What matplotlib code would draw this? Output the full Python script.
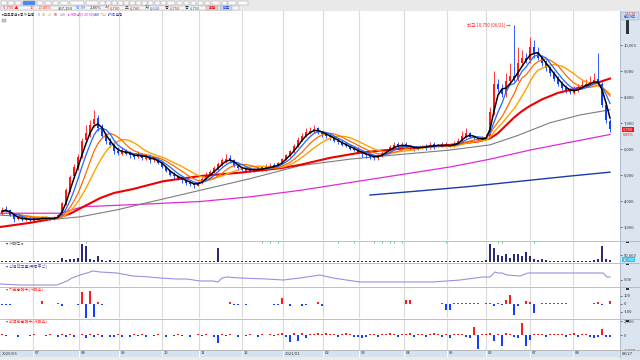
import numpy as np
import pandas as pd
import matplotlib
matplotlib.use('Agg')
import matplotlib.pyplot as plt
from matplotlib.patches import Rectangle
from matplotlib.lines import Line2D

plt.rcParams['font.family'] = ['Noto Sans CJK KR', 'DejaVu Sans']

# ---------------- data (1 bar ~ 2 trading days) ----------------
close = [3600,3650,3450,3300,3350,3280,3300,3250,3320,3300,
         3350,3320,3300,3340,3450,3900,4400,4900,5300,5700,
         6300,6600,6900,7150,6800,6500,6300,6150,5900,5850,
         5950,5800,5750,5700,5800,5650,5700,5550,5600,5450,
         5300,5150,5000,4950,4850,4800,4700,4650,4600,4700,
         4850,5000,5100,5250,5400,5550,5600,5550,5350,5250,
         5200,5250,5150,5200,5250,5200,5300,5350,5300,5450,
         5600,5750,5900,6100,6350,6500,6650,6700,6750,6650,
         6550,6500,6450,6300,6250,6150,6100,6000,5950,5850,
         5800,5750,5700,5650,5750,5850,5950,6050,6150,6100,
         6150,6100,6050,6000,6050,6100,6050,6150,6100,6150,
         6100,6150,6100,6200,6300,6500,6600,6450,6400,6350,
         6400,6450,7400,8500,8300,8100,8600,8800,8700,9300,
         9500,9400,9900,9700,9500,9300,9100,8900,8700,8500,
         8350,8250,8200,8250,8350,8450,8500,8550,8650,8500,
         7700,7100,6750]
opens = [3500,3700,3650,3450,3280,3380,3260,3320,3240,3330,
         3290,3360,3330,3280,3330,3450,3900,4400,4950,5250,
         5700,6350,6550,6950,7200,6850,6550,6250,6150,5900,
         5800,5950,5850,5720,5680,5800,5620,5720,5550,5620,
         5450,5300,5150,5000,4950,4850,4800,4700,4650,4580,
         4700,4850,5000,5100,5250,5400,5500,5650,5550,5350,
         5250,5150,5250,5150,5200,5280,5200,5300,5380,5300,
         5450,5600,5750,5900,6100,6350,6500,6650,6700,6780,
         6650,6550,6500,6450,6300,6250,6150,6100,6000,5950,
         5850,5800,5750,5700,5650,5750,5850,5950,6050,6180,
         6080,6180,6100,6050,5980,6050,6120,6030,6180,6080,
         6170,6080,6160,6100,6200,6300,6450,6600,6450,6400,
         6350,6400,6450,7400,8500,8300,8100,8600,8800,8700,
         9300,9500,9400,9900,9700,9500,9300,9100,8900,8700,
         8500,8350,8250,8150,8250,8350,8450,8500,8550,8700,
         8500,7700,7050]
highs = [3750,3800,3700,3500,3400,3420,3350,3380,3350,3400,
         3400,3420,3380,3400,3500,3950,4500,5000,5400,5800,
         6400,6900,7100,7500,7300,6950,6600,6400,6250,6050,
         6050,6000,5900,5850,5900,5850,5800,5800,5700,5700,
         5500,5350,5200,5100,5000,4950,4850,4800,4700,4750,
         4900,5100,5200,5350,5500,5650,5800,5750,5600,5400,
         5300,5300,5300,5250,5300,5350,5400,5450,5450,5500,
         5650,5800,5950,6200,6450,6600,6800,6850,6900,6850,
         6700,6650,6550,6500,6400,6350,6250,6150,6100,6050,
         5900,5850,5800,5750,5800,5900,6000,6150,6250,6250,
         6250,6250,6150,6100,6100,6150,6200,6250,6250,6200,
         6250,6250,6200,6300,6400,6700,6800,6650,6500,6450,
         6500,6550,7600,9000,8700,8500,8900,9300,10750,9900,
         9800,9700,10300,10200,9900,9600,9400,9200,9000,8800,
         8600,8450,8350,8400,8500,8650,8700,8800,8900,9700,
         8550,7800,7150]
lows = [3450,3550,3400,3200,3250,3220,3230,3200,3200,3250,
        3250,3270,3250,3250,3300,3400,3850,4350,4900,5200,
        5650,6250,6450,6850,6700,6400,6200,6050,5800,5750,
        5750,5750,5650,5600,5650,5550,5550,5450,5500,5400,
        5250,5100,4950,4850,4800,4700,4600,4550,4500,4550,
        4650,4800,4950,5050,5200,5350,5450,5450,5300,5200,
        5150,5100,5100,5100,5150,5150,5150,5250,5250,5250,
        5400,5550,5700,5850,6050,6300,6450,6550,6600,6550,
        6450,6400,6350,6250,6200,6100,6050,5950,5900,5800,
        5700,5650,5600,5550,5550,5700,5800,5900,6000,6000,
        6000,6000,5950,5900,5950,6000,5950,6000,6000,6050,
        6050,6050,6050,6050,6150,6250,6400,6400,6350,6300,
        6300,6350,6400,7300,8200,8000,8000,8500,8600,8600,
        9200,9300,9300,9500,9400,9200,9000,8800,8600,8400,
        8250,8150,8100,8100,8200,8300,8400,8450,8500,8450,
        7600,7000,6650]

# long moving averages read as polylines (bar index, price)
ma_red_x = [-0.5, 7, 13.75, 17, 19.5, 22, 24.5, 28, 32.75, 40.25, 49.5, 59.5, 69.5, 74.5, 82, 89.5, 99.5,
            112, 119, 122, 124, 126, 128, 130, 132, 135, 139, 143, 147, 152]
ma_red_y = [2990, 3150, 3335, 3500, 3700, 3900, 4100, 4300, 4450, 4750, 4950, 5080, 5250, 5380, 5650, 5850, 6000,
            6150, 6280, 6400, 6600, 6900, 7200, 7450, 7650, 7900, 8150, 8300, 8450, 8700]
ma_gray_x = [-0.5, 13.75, 19.5, 28.75, 37, 49.5, 62, 74.5, 87, 99.5, 112, 122, 128.75, 137, 144.5, 152]
ma_gray_y = [3450, 3300, 3380, 3650, 3950, 4400, 4850, 5350, 5600, 5780, 5950, 6150, 6500, 7000, 7300, 7500]
ma_mag_x = [-0.5, 14.5, 20.25, 32.75, 49.5, 62, 74.5, 87, 99.5, 112, 122, 132, 142, 152]
ma_mag_y = [3520, 3520, 3770, 3850, 3970, 4150, 4400, 4700, 5000, 5300, 5600, 5950, 6250, 6550]
ma_navy_x = [92, 104.5, 117, 129.5, 142, 152]
ma_navy_y = [4220, 4380, 4550, 4750, 4950, 5100]

volume = [8,6,5,5,4,4,3,4,5,4,
          7,5,4,6,10,30,14,22,20,28,
          128,114,25,15,43,14,10,12,8,9,
          7,8,6,7,6,8,6,5,7,6,
          5,6,5,6,7,5,6,5,6,7,
          6,7,8,7,100,8,7,6,5,6,
          5,4,6,5,4,6,5,4,5,6,
          5,4,6,5,6,7,5,6,5,4,
          5,6,4,5,6,4,5,4,6,5,
          4,5,6,4,5,4,6,5,4,5,
          4,6,5,4,5,6,4,5,6,5,
          4,5,6,5,4,6,8,10,9,8,
          10,12,128,100,50,40,55,30,55,55,
          40,75,45,25,15,20,12,10,8,8,
          7,6,6,7,5,6,8,10,15,20,
          114,25,12]
signal_idx = [21, 65, 67, 69, 84, 88, 93, 95, 97, 98, 100, 111, 124, 125, 133]

ind1_x = [-0.5, 4.5, 13.75, 16.25, 17.5, 19.5, 21.25, 22.75, 24.5, 28.75, 32.75, 37, 39.5, 43.75, 46.25, 49.5,
          52.75, 54, 55, 56.25, 59.5, 66.25, 70.25, 74.5, 79.5, 82.75, 89.5, 96.25, 107.75, 114.5, 120.25,
          122, 123.25, 124, 125, 126.25, 129.5, 131.5, 132.75, 137.75, 150.25, 151.25, 152]
ind1_y = [3.98, 3.74, 3.74, 4.70, 5.41, 6.13, 6.61, 7.09, 6.85, 6.61, 5.89, 5.65, 5.41, 5.17, 5.17, 4.70,
          4.70, 4.46, 5.41, 5.65, 5.41, 5.17, 4.93, 5.41, 6.13, 5.41, 4.46, 4.46, 4.46, 4.93, 5.65,
          5.65, 6.85, 6.61, 6.61, 6.13, 5.89, 6.61, 6.61, 6.61, 6.61, 5.65, 5.65]

inst_net = [-12,-12,-10,4,-4,6,4,0,-4,0,
            37,6,0,4,12,-25,6,5,-4,-12,
            155,-170,160,-165,25,-15,6,-5,5,0,
            5,-4,-5,5,-4,5,4,-5,5,-4,
            4,-4,5,-5,4,4,-4,5,-5,4,
            5,-4,4,-5,-4,5,-4,25,-12,-12,
            -5,-12,4,5,-4,4,5,-4,-12,-12,
            75,-4,-25,5,-4,-25,-15,4,-4,25,
            -25,4,5,6,5,4,6,5,4,5,
            5,4,5,4,0,5,0,0,4,0,
            0,50,50,4,0,0,4,0,0,0,
            8,-70,-70,8,8,8,8,8,8,8,
            4,8,8,-25,12,-12,50,110,-140,-30,
            4,40,25,-110,4,8,8,8,8,8,
            8,12,4,4,4,4,4,4,12,25,
            -12,4,40]
frgn_net = [150,-130,120,100,-150,130,120,-100,140,100,
            130,-120,140,120,-150,200,-250,150,-200,120,
            250,-300,150,-200,200,-150,120,-200,-250,150,
            -150,130,-200,150,-120,200,-150,130,-120,150,
            130,-150,120,-130,150,-120,130,-150,120,140,
            -130,150,120,-150,-1070,150,-130,200,130,-150,
            120,-130,150,130,-150,200,120,150,-130,250,
            400,-200,-930,400,-700,400,-400,250,150,300,
            250,300,200,250,-150,200,300,250,-200,-250,
            -300,-250,200,150,-200,250,200,300,250,-150,
            200,250,300,-150,200,250,-200,150,300,250,
            -200,250,-300,200,150,250,-150,-400,1200,-1860,
            200,250,300,-800,250,-1420,400,200,-150,-400,
            1770,-1470,-650,200,250,150,-200,250,200,150,
            250,-200,150,300,-150,200,250,-250,-300,-250,
            930,-250,-200]

month_pos = [7.75, 19.25, 29.25, 40, 49.25, 60, 70.25, 80.25, 89.25, 100.5, 111.25, 121, 132, 142.75]
month_lbl = ['07', '08', '09', '10', '11', '12', '2021/01', '02', '03', '04', '05', '06', '07', '08']
first_lbl = '2020/06'
last_lbl = '08/27'
price_ticks = [3000, 4000, 5000, 6000, 7000, 8000, 9000, 10000]

# ---------------- figure ----------------
W, H = 640, 360
fig = plt.figure(figsize=(6.4, 3.6), dpi=100)
fig.patch.set_facecolor('white')

def axpx(x0, y0, x1, y1):
    a = fig.add_axes([x0 / W, 1 - y1 / H, (x1 - x0) / W, (y1 - y0) / H])
    for s in a.spines.values():
        s.set_visible(False)
    a.set_xlim(-0.5, 154.5)
    a.set_xticks([])
    a.tick_params(axis='y', which='both', right=True, left=False, labelright=True, labelleft=False,
                  length=1.5, width=0.5, pad=1.5, labelsize=3.0, colors='#333333')
    a.patch.set_alpha(0)
    for m in month_pos:
        a.axvline(m, color='#dadada', lw=0.8, zorder=0)
    return a

# background panels
fig.add_artist(Rectangle((620 / W, 0), 20 / W, 349 / H, transform=fig.transFigure,
                         facecolor='#dbe5f0', edgecolor='none', zorder=-5))
fig.add_artist(Rectangle((0, 349 / H), 1, 11 / H, transform=fig.transFigure,
                         facecolor='#e9e9e9', edgecolor='none', zorder=-5))
fig.add_artist(Rectangle((0, 0), 620 / W, 3 / H, transform=fig.transFigure,
                         facecolor='#ececec', edgecolor='none', zorder=-5))
fig.add_artist(Line2D([620 / W, 620 / W], [3 / H, 349 / H], transform=fig.transFigure,
                      color='#a9b6c6', lw=0.6))
for yy in [241, 262.5, 286.5, 318.5, 350]:
    fig.add_artist(Line2D([0, 1], [1 - yy / H, 1 - yy / H], transform=fig.transFigure,
                          color='#b5b5b5', lw=0.6))

# ---------------- main price panel ----------------
ax = axpx(0, 11, 620, 240)
ax.set_ylim(2490, 11300)
ax.set_yticks(price_ticks)
ax.set_yticklabels([f'{v:,}' for v in price_ticks])

x = np.arange(len(close))
c = np.array(close, float)
o = np.array(opens, float)
hi = np.array(highs, float)
lo = np.array(lows, float)
up = c >= o
cols = np.where(up, '#ff1a1a', '#1040ff')
ax.vlines(x, lo, hi, colors=cols, lw=0.6, zorder=3)
body = np.maximum(np.abs(c - o), 25)
ax.bar(x, body, bottom=np.minimum(o, c), width=0.6, color=cols, linewidth=0, zorder=3)

s = pd.Series(c)
ax.plot(ma_navy_x, ma_navy_y, color='#1c3aa8', lw=1.0, zorder=2)
ax.plot(ma_mag_x, ma_mag_y, color='#e02ad8', lw=0.9, zorder=2)
ax.plot(ma_gray_x, ma_gray_y, color='#7c7c7c', lw=0.8, zorder=2)
ax.plot(ma_red_x, ma_red_y, color='#ee0000', lw=1.5, zorder=4)
ax.plot(x, s.rolling(12, min_periods=1).mean(), color='#ffa200', lw=1.0, zorder=4)
ax.plot(x, s.rolling(8, min_periods=1).mean(), color='#ff6a00', lw=0.9, zorder=4)
ax.plot(x, s.rolling(5, min_periods=1).mean(), color='#2266ff', lw=0.9, zorder=5)
ax.plot(x, s.rolling(3, min_periods=1).mean(), color='#000000', lw=1.1, zorder=6)

ipk = int(np.argmax(hi))
ax.annotate(f'최고 {int(hi[ipk]):,} (06/21) →', xy=(ipk - 0.8, hi[ipk]), ha='right', va='center',
            fontsize=3.2, color='#ff2020')
# current price tag
last = close[-1]
ax.text(155.2, last, f'{last:,}', fontsize=3.0, color='white', va='center', ha='left',
        bbox=dict(boxstyle='square,pad=0.15', facecolor='#ff1010', edgecolor='none'), clip_on=False)
ax.text(155.2, last - 230, '6.85%', fontsize=2.8, color='#ff1010', va='center', ha='left', clip_on=False)

# legend row
LY = 1 - 14.5 / H
fig.text(2 / W, LY, '▾교보증권 ▸종가 일봉', fontsize=2.6, color='#222222', va='center')
for t, col, lx in [('5', '#2266ff', 38), ('10', '#ff6a00', 42), ('20', '#ffa200', 48),
                   ('60', '#ee0000', 54), ('120', '#7c7c7c', 60)]:
    fig.text(lx / W, LY, t, fontsize=2.6, color=col, va='center')
fig.text(68 / W, LY, '▸거래량(5 20 60)', fontsize=2.6, color='#e02ad8', va='center')
fig.text(94 / W, LY, '480', fontsize=2.6, color='#1c3aa8', va='center')
fig.text(100 / W, LY, '기간', fontsize=2.6, color='#ffa200', va='center')
fig.text(108 / W, LY, '▸기타설정', fontsize=2.6, color='#2a2ad0', va='center')
fig.add_artist(Rectangle((2 / W, 1 - 21.5 / H), 4 / W, 3 / H, transform=fig.transFigure,
                         facecolor='#c8c8c8', edgecolor='#888888', lw=0.3))

# ---------------- header toolbar ----------------
for bx, bw in [(1, 6), (8, 6), (15, 6), (23, 12), (37, 6), (45, 6), (53, 5), (60, 8), (70, 14), (86, 12),
               (100, 5), (106, 5), (112, 5), (118, 5), (124, 5), (130, 5), (136, 5), (142, 5), (148, 5),
               (155, 5), (161, 5), (167, 8), (177, 5), (184, 5), (191, 5), (198, 5), (205, 5), (212, 8),
               (222, 5), (228, 8), (238, 10)]:
    fig.add_artist(Rectangle((bx / W, 1 - 4.6 / H), bw / W, 4 / H, transform=fig.transFigure,
                             facecolor='#fafafa', edgecolor='#9a9a9a', lw=0.3))
fig.add_artist(Rectangle((23 / W, 1 - 4.6 / H), 12 / W, 4 / H, transform=fig.transFigure,
                         facecolor='#3d8bff', edgecolor='#9a9a9a', lw=0.3))
fig.add_artist(Rectangle((1 / W, 1 - 10.2 / H), 238 / W, 4.6 / H, transform=fig.transFigure,
                         facecolor='#f6f6f6', edgecolor='#a0a0a0', lw=0.3))
hdr = [(3, '6,750 ▲', '#ff1a1a'), (30, '10', '#ff1a1a'), (38, '+0.45%', '#ff1a1a'), (58, '357,193', '#333333'),
       (76, '92.99', '#2266ff'), (90, '2.46%', '#333333'), (105, '시', '#333333'), (110, '6,700', '#ff1a1a'),
       (125, '고', '#333333'), (130, '6,780', '#ff1a1a'), (145, '저', '#333333'), (150, '6,620', '#2266ff'),
       (165, '종', '#333333'), (170, '6,750', '#ff1a1a'), (185, '등', '#333333'), (190, '6,750', '#2266ff')]
for hx, ht, hc in hdr:
    fig.text(hx / W, 1 - 8 / H, ht, fontsize=3.0, color=hc, va='center')
fig.add_artist(Rectangle((206 / W, 1 - 10 / H), 12 / W, 4.2 / H, transform=fig.transFigure,
                         facecolor='#f4c6c6', edgecolor='#a0a0a0', lw=0.3))
fig.add_artist(Rectangle((220 / W, 1 - 10 / H), 12 / W, 4.2 / H, transform=fig.transFigure,
                         facecolor='#c6d4f4', edgecolor='#a0a0a0', lw=0.3))
fig.text(212 / W, 1 - 8 / H, '회원', fontsize=2.8, color='#cc0000', va='center', ha='center')
fig.text(226 / W, 1 - 8 / H, '비교', fontsize=2.8, color='#0033cc', va='center', ha='center')
fig.add_artist(Rectangle((621 / W, 1 - 20 / H), 18 / W, 8 / H, transform=fig.transFigure,
                         facecolor='#c9d9ee', edgecolor='#8fa4c0', lw=0.3))
fig.text(630 / W, 1 - 14 / H, '1.12.13', fontsize=2.4, color='#cc3333', ha='center', va='center')
fig.text(630 / W, 1 - 17.5 / H, '분석차트', fontsize=2.4, color='#3355aa', ha='center', va='center')

# ---------------- volume ----------------
axv = axpx(0, 241, 620, 262)
axv.set_ylim(0, 150)
axv.bar(x, volume, width=0.55, color='#2a2a78', linewidth=0)
axv.set_yticks([50])
axv.set_yticklabels(['50,000'])
axv.scatter(signal_idx, [146] * len(signal_idx), marker='|', s=2, color='#3cc47c', linewidths=0.6)
axv.text(155.2, 16, '12,305', fontsize=2.8, color='white', va='center', ha='left', clip_on=False,
         bbox=dict(boxstyle='square,pad=0.1', facecolor='#1ec8ff', edgecolor='none'))
axv.text(1, 132, '▾ 거래량 ▸', fontsize=3.0, color='#333333', va='center')

# ---------------- indicator 1 (line) ----------------
ax1 = axpx(0, 263, 620, 286)
ax1.set_ylim(3.5, 9.0)
ax1.plot(ind1_x, ind1_y, color='#9b8fe0', lw=0.8)
ax1.set_yticks([5])
ax1.set_yticklabels(['5.00'])
ax1.text(1, 8.2, '▾ 신용잔고율(유동주식)', fontsize=3.0, color='#4a3ab0', va='center')

# ---------------- indicator 2 (bars) ----------------
ax2 = axpx(0, 287, 620, 318)
ax2.set_ylim(-175, 212)
v2 = np.array(inst_net, float)
ax2.bar(x, v2, width=0.55, color=np.where(v2 >= 0, '#ff1a1a', '#1040ff'), linewidth=0)
ax2.set_yticks([-100, 0, 100])
ax2.set_yticklabels(['-100', '0', '100'])
ax2.text(1, 185, '▾ 기관순매수(거래소)', fontsize=3.0, color='#ff1a1a', va='center')

# ---------------- indicator 3 (bars) ----------------
ax3 = axpx(0, 319, 620, 350)
ax3.set_ylim(-1866, 2266)
v3 = np.array(frgn_net, float)
ax3.bar(x, v3, width=0.55, color=np.where(v3 >= 0, '#ff1a1a', '#1040ff'), linewidth=0)
ax3.set_yticks([-2000, 0, 2000])
ax3.set_yticklabels(['-2,000', '0', '2,000'])
ax3.text(1, 1950, '▾ 외국인순매수(거래소)', fontsize=3.0, color='#ff1a1a', va='center')

for a in [ax, axv, ax1, ax2, ax3]:
    a.add_artist(Rectangle((155.9, 0.9), 0.9, 0.08, transform=a.get_xaxis_transform(),
                           facecolor='#333333', edgecolor='none', clip_on=False))

# ---------------- date axis ----------------
axd = fig.add_axes([0, 1 - 357 / H, 1, 7 / H])
axd.set_xlim(0, 640)
axd.set_ylim(0, 1)
axd.axis('off')
axd.add_patch(Rectangle((0, 0), 640, 1, facecolor='#d6e2f0', edgecolor='#9fb0c5', lw=0.4))
axd.text(2, 0.5, first_lbl, fontsize=3.0, color='#333333', va='center')
for m, lbl in zip(month_pos, month_lbl):
    px = (m + 0.5) * 4
    axd.plot([px, px], [0, 1], color='#ffffff', lw=0.6)
    axd.text(px + 1.5, 0.5, lbl, fontsize=3.0, color='#333333', va='center')
axd.text(622, 0.5, last_lbl, fontsize=3.0, color='#333333', va='center')

fig.savefig('out.png', dpi=100, facecolor='white')
